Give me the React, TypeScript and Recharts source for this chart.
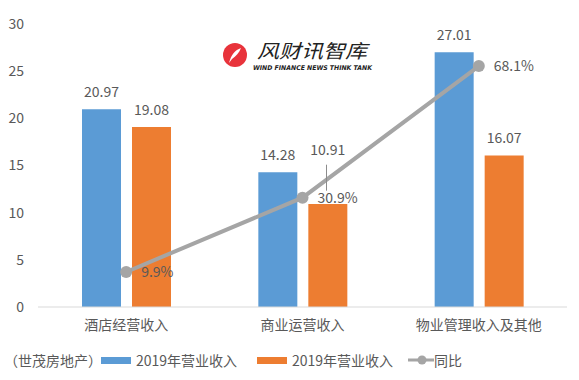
import {
  ComposedChart,
  Bar,
  Line,
  XAxis,
  YAxis,
  LabelList,
} from "recharts";

const categories = ["酒店经营收入", "商业运营收入", "物业管理收入及其他"];
const revenueA = [20.97, 14.28, 27.01];
const revenueB = [19.08, 10.91, 16.07];
const yoy = [9.9, 30.9, 68.1];
const leftTicks = [0, 5, 10, 15, 20, 25, 30];

const data = categories.map((name, i) => ({
  name,
  a: revenueA[i],
  b: revenueB[i],
  yoy: yoy[i],
}));

const TEXT = "#595959";
const FONT = "'Noto Sans CJK SC', 'Noto Sans', sans-serif";

// value label above a bar; the 2nd orange label is lifted (as in the source) to clear the line
function BarValue(props: any) {
  const { x, y, width, value, index, lift } = props;
  const up = lift && index === 1 ? 37 : 0;
  return (
    <text
      x={x + width / 2}
      y={y - 12 - up}
      fill={TEXT}
      fontSize={14}
      fontFamily={FONT}
      textAnchor="middle"
    >
      {value}
    </text>
  );
}

function YoyLabel(props: any) {
  const { x, y, value, index } = props;
  return (
    <g>
      {index === 1 && (
        <line x1={x + 24} y1={y - 33} x2={x + 24} y2={y - 7} stroke="#8c8c8c" strokeWidth={1} />
      )}
      <text
        x={x + 15}
        y={y + 5}
        fill={TEXT}
        fontSize={14}
        fontFamily={FONT}
        textAnchor="start"
      >
        {`${value}%`}
      </text>
    </g>
  );
}

function Logo() {
  return (
    <div style={{ position: "absolute", left: 215, top: 30, width: 180, height: 50 }}>
      <svg width={180} height={50}>
        <circle cx={20} cy={25} r={12} fill="#e8333b" />
        <path d="M14 33 C16 25 20 20 26 18 C24 23 21 26 17 29 Z" fill="#fff" />
        <text
          x={42}
          y={28}
          fontSize={19}
          fontStyle="italic"
          fill="#222"
          fontFamily={FONT}
          textLength={110}
          lengthAdjust="spacingAndGlyphs"
        >
          风财讯智库
        </text>
        <text
          x={38}
          y={40}
          fontSize={6.5}
          fontWeight="bold"
          fontStyle="italic"
          fill="#222"
          fontFamily="'DejaVu Sans', sans-serif"
          textLength={119}
          lengthAdjust="spacingAndGlyphs"
        >
          WIND FINANCE NEWS THINK TANK
        </text>
      </svg>
    </div>
  );
}

function LegendRow() {
  const item = { display: "flex", alignItems: "center", position: "absolute" as const, top: 350 };
  const label = { fontSize: 14, color: TEXT, fontFamily: FONT, lineHeight: "20px" };
  return (
    <>
      <div style={{ ...item, left: 4 }}>
        <span style={label}>（世茂房地产）</span>
      </div>
      <div style={{ ...item, left: 101 }}>
        <span style={{ width: 30, height: 7, background: "#5b9bd5", marginRight: 5 }} />
        <span style={label}>2019年营业收入</span>
      </div>
      <div style={{ ...item, left: 257 }}>
        <span style={{ width: 30, height: 7, background: "#ed7d31", marginRight: 5 }} />
        <span style={label}>2019年营业收入</span>
      </div>
      <div style={{ ...item, left: 408 }}>
        <svg width={26} height={14}>
          <line x1={0} y1={7} x2={26} y2={7} stroke="#a5a5a5" strokeWidth={3} />
          <circle cx={14} cy={7} r={4.5} fill="#a5a5a5" />
        </svg>
        <span style={label}>同比</span>
      </div>
    </>
  );
}

export default function App() {
  return (
    <div
      style={{
        position: "absolute",
        left: 0,
        top: 0,
        width: 579,
        height: 380,
        background: "#fff",
        fontFamily: FONT,
      }}
    >
      <ComposedChart
        width={579}
        height={380}
        data={data}
        margin={{ top: 24, right: 12, left: 0, bottom: 43 }}
        barGap={11}
        barCategoryGap="25%"
      >
        <XAxis
          dataKey="name"
          height={30}
          tickSize={0}
          tickMargin={13}
          axisLine={{ stroke: "#d9d9d9" }}
          tick={{ fill: TEXT, fontSize: 14, fontFamily: FONT }}
        />
        <YAxis
          yAxisId="left"
          width={38}
          domain={[0, 30]}
          ticks={leftTicks}
          interval={0}
          axisLine={false}
          tickSize={0}
          tickMargin={14}
          tick={{ fill: TEXT, fontSize: 14, fontFamily: FONT }}
        />
        <YAxis yAxisId="right" orientation="right" domain={[0, 80]} hide />
        <Bar yAxisId="left" dataKey="a" fill="#5b9bd5" barSize={39} isAnimationActive={false}>
          <LabelList dataKey="a" content={<BarValue />} />
        </Bar>
        <Bar yAxisId="left" dataKey="b" fill="#ed7d31" barSize={39} isAnimationActive={false}>
          <LabelList dataKey="b" content={<BarValue lift />} />
        </Bar>
        <Line
          yAxisId="right"
          dataKey="yoy"
          stroke="#a5a5a5"
          strokeWidth={4}
          dot={{ r: 6, fill: "#a5a5a5", stroke: "#a5a5a5", strokeWidth: 0 }}
          isAnimationActive={false}
        >
          <LabelList dataKey="yoy" content={<YoyLabel />} />
        </Line>
      </ComposedChart>
      <Logo />
      <LegendRow />
    </div>
  );
}
